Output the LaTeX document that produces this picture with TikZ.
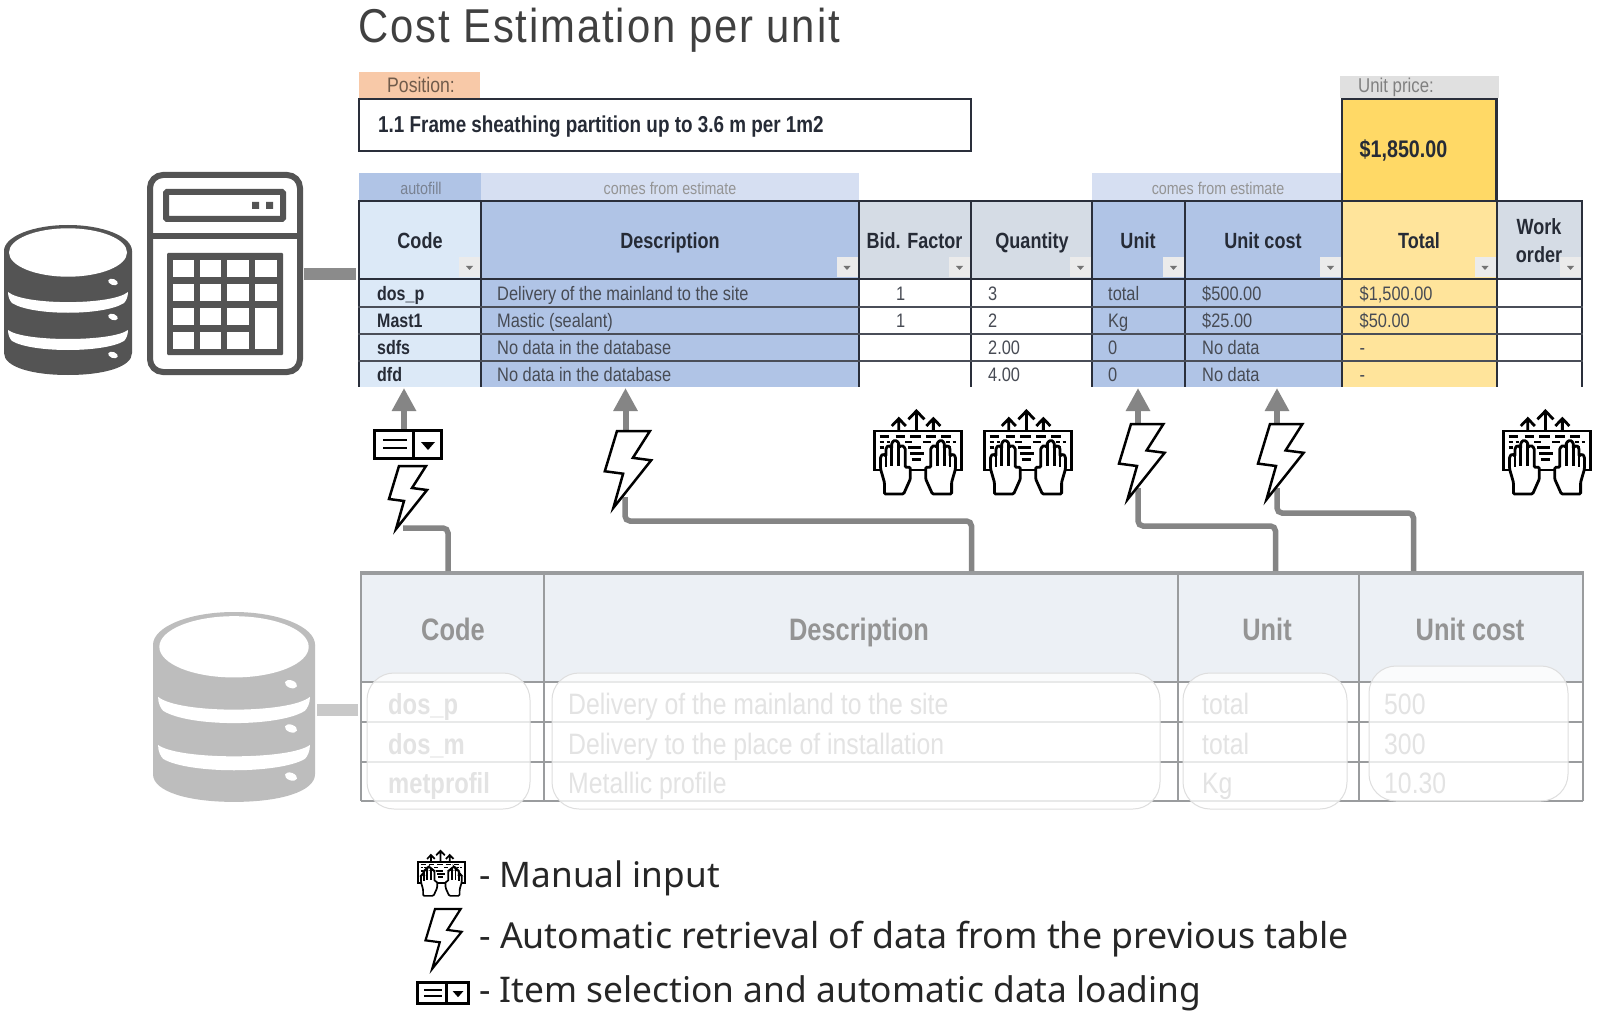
\documentclass[tikz,border=0pt]{standalone}
\usepackage{fontspec}
\usetikzlibrary{arrows.meta}
\setmainfont{Liberation Sans}
\newfontfamily\cond[FakeStretch=0.84]{Liberation Sans}
\newfontfamily\condb[FakeStretch=0.82]{Liberation Sans}
\newfontfamily\titlef[FakeStretch=0.88,LetterSpace=4]{Liberation Sans}
\newfontfamily\legendf{Noto Sans}
\newcommand{\fs}[1]{\fontsize{#1}{#1}\selectfont}
\definecolor{blueA}{HTML}{B0C4E6}
\definecolor{blueB}{HTML}{DCE9F7}
\definecolor{blueC}{HTML}{D6DFF2}
\definecolor{greyH}{HTML}{D5DCE5}
\definecolor{yelA}{HTML}{FFE49B}
\definecolor{yelB}{HTML}{FFD966}
\definecolor{peach}{HTML}{F8C9A8}
\definecolor{ink}{HTML}{262B36}
\definecolor{lineT}{HTML}{2A2F3B}
\definecolor{conng}{HTML}{858585}
\definecolor{lowline}{HTML}{9A9C9E}
\definecolor{lowhd}{HTML}{ECF0F5}
\newcommand{\kbdlw}{2.8pt}
\newcommand{\bolw}{2.5pt}
\newcommand{\sellw}{3pt}
\tikzset{
 hd/.style={font=\condb\bfseries\fs{22},text=ink,anchor=base,inner sep=0pt},
 bd/.style={font=\cond\fs{19.5},text=ink!85,anchor=base west,inner sep=0pt},
 bdb/.style={font=\condb\bfseries\fs{19.5},text=ink,anchor=base west,inner sep=0pt},
 capt/.style={font=\cond\fs{17},anchor=base,inner sep=0pt},
 lowh/.style={font=\condb\bfseries\fs{31},text=black!42,anchor=base,inner sep=0pt},
 lowb/.style={font=\cond\fs{29.5},text=black!50,anchor=base west,inner sep=0pt},
 legt/.style={text=black!85,anchor=base west,inner sep=0pt},
 conn/.style={draw=conng,line width=5.5pt,rounded corners=5pt},
 arrowg/.style={draw=conng,line width=6pt,-{Triangle[length=23pt,width=23pt]}},
 tline/.style={draw=lineT,line width=2.4pt},
 rline/.style={draw=lineT!85,line width=1.9pt},
 lline/.style={draw=lowline,line width=2.6pt},
 overlay/.style={draw=black!13,line width=1pt,fill=white,fill opacity=.78,rounded corners=27pt},
 filt/.style={fill=white!92!black},
 bolt/.pic={\draw[black,fill=white,line width=\bolw,line join=miter,miter limit=6]
   (0,0)--(27,0)--(13,22)--(28,24)--(-3,63)--(5,35)--(-10,33)--cycle;},
 selbox/.pic={
   \draw[black,fill=white,line width=\sellw] (0.5,0.5) rectangle (67.5,28.5);
   \draw[black,line width=\sellw] (39,0)--(39,29);
   \draw[black,line width=\sellw*.85] (9,10)--(33,10) (9,18)--(33,18);
   \fill[black] (47,12)--(61,12)--(54,20)--cycle;},
 kbd/.pic={
   \begin{scope}[line width=\kbdlw,black,xscale=.96]
   \draw[fill=white] (15,81) rectangle (285,198);
   \draw (145,81)--(145,24) (120,46)--(145,21)--(170,46);
   \draw (90,81)--(90,46) (68,66)--(90,44)--(112,66);
   \draw (198,81)--(198,46) (176,66)--(198,44)--(220,66);
   \foreach \y/\a/\b in {97/30/60,97/80/110,97/125/158,97/175/205,97/222/252,
      114/30/44,114/52/62,114/110/132,114/165/190,114/238/250,114/258/270,
      131/30/44,131/118/160,131/240/252,148/125/170,166/130/160}
     \draw (\a,\y)--(\b,\y);
   \foreach \m in {0,1}{
   \begin{scope}[shift={(\m*300,0)},xscale=1-2*\m]
   \draw[fill=white,rounded corners=1.2pt] (45,270)--(45,235)--(33,195)--(33,158)--(40,150)--(50,156)--(50,132)--(58,124)--(68,132)--(68,116)--(78,108)--(90,116)--(90,130)--(100,124)--(110,132)--(110,190)--(126,190)--(126,225)--(105,270)--cycle;
   \draw (50,156)--(50,190) (68,132)--(68,185) (90,116)--(90,185);
   \end{scope}}
   \end{scope}},
 dbicon/.pic={
   \fill[dbc] (64,26) ellipse[x radius=64,y radius=26];
   \fill[dbc] (0,26)--(128,26)--(128,128) .. controls (128,142) and (100,150) .. (64,150) .. controls (28,150) and (0,142) .. (0,128)--cycle;
   \fill[white] (64,27.5) ellipse[x radius=59,y radius=24.2];
   \fill[white] (4,67) .. controls (20,80.5) and (108,80.5) .. (124,67) .. controls (124,72) and (122,76) .. (120,78) .. controls (100,91) and (28,91) .. (8,78) .. controls (6,76) and (4,72) .. (4,67)--cycle;
   \fill[white] (4,105) .. controls (20,117) and (108,117) .. (124,105) .. controls (124,110) and (122,114) .. (120,116) .. controls (100,128) and (28,128) .. (8,116) .. controls (6,114) and (4,110) .. (4,105)--cycle;
   \foreach \y in {57,92,130}
     \fill[white,rotate around={-20:(109,\y)}] (109,\y) ellipse[x radius=5,y radius=3];
 }
}
\begin{document}
\begin{tikzpicture}[x=1pt,y=-1pt]
\useasboundingbox (0,0) rectangle (1600,1032);
\fill[white] (0,0) rectangle (1600,1032);

% title
\node[font=\titlef\fs{47.5},text=black!75,anchor=base west,inner sep=0pt] (title) at (358,43) {Cost Estimation per unit};

% caption bars
\fill[peach] (359,72) rectangle (480,98);
\node[font=\cond\fs{21},text=black!55!peach,anchor=base,inner sep=0pt] (pos) at (421,93) {Position:};
\fill[black!12] (1340,76) rectangle (1499,98);
\node[font=\cond\fs{20},text=black!50,anchor=base,inner sep=0pt] (uprice) at (1396,93) {Unit price:};
\fill[blueA] (359,173) rectangle (481,200);
\fill[blueC] (481,173) rectangle (858.5,200);
\fill[blueC] (1092,173) rectangle (1342,200);
\node[capt,text=blueA!55!black!85] (auto) at (421,195) {autofill};
\node[capt,text=black!42] (comes1) at (670,195) {comes from estimate};
\node[capt,text=black!42] (comes2) at (1218,195) {comes from estimate};

% position box
\draw[tline,fill=white] (359,99) rectangle (971,151);
\node[font=\condb\bfseries\fs{23},text=ink,anchor=base west,inner sep=0pt] (frame) at (378,133) {1.1 Frame sheathing partition up to 3.6 m per 1m2};

% unit price box
\draw[draw=lineT,line width=2.4pt,fill=yelB] (1342,99) rectangle (1496.5,201);
\node[font=\condb\bfseries\fs{24},text=ink,anchor=base west,inner sep=0pt] (price) at (1359.5,158) {\$1,850.00};

% upper table fills
\fill[blueB] (359,201) rectangle (481,387);
\fill[blueA] (481,201) rectangle (858.5,387);
\fill[greyH] (858.5,201) rectangle (1092,279);
\fill[blueA] (1092,201) rectangle (1342,387);
\fill[yelA] (1342,201) rectangle (1496.5,387);
\fill[greyH] (1496.5,201) rectangle (1581.5,279);

% upper headers
\node[hd] (hCode) at (420,249) {Code};
\node[hd] (hDesc) at (670,249) {Description};
\node[hd] (hBid) at (914.5,249) {Bid. Factor};
\node[hd] (hQty) at (1032,249) {Quantity};
\node[hd] (hUnit) at (1138,249) {Unit};
\node[hd] (hCost) at (1263,249) {Unit cost};
\node[hd] (hTot) at (1419,249) {Total};
\node[hd] (hWork) at (1539,235) {Work};
\node[hd] (hOrd) at (1539,263) {order};

% filter buttons
\foreach \r in {480,857.5,970,1091,1184,1341,1495.5,1581}{
  \fill[filt] (\r-21,257) rectangle (\r,277.5);
  \fill[black!55] (\r-14,266)--(\r-7,266)--(\r-10.5,270)--cycle;
}

% upper table lines
\foreach \x in {359,481,858.5,971,1092,1185,1342,1496.5,1581.5}
  \draw[tline,line width=2pt] (\x,201)--(\x,387);
\draw[tline] (358,201)--(1582.5,201);
\draw[tline] (358,279)--(1582.5,279);
\foreach \y in {307,334,361}
  \draw[rline] (358,\y)--(1582.5,\y);

% upper body
\foreach \n/\y/\a/\b/\c/\d/\e/\f/\g in {
  1/300/dos\_p/Delivery of the mainland to the site/1/3/total/\$500.00/{\$1,500.00},
  2/327/Mast1/Mastic (sealant)/1/2/Kg/\$25.00/\$50.00,
  3/354/sdfs/No data in the database//2.00/0/No data/-,
  4/381/dfd/No data in the database//4.00/0/No data/-}{
  \node[bdb] (c\n) at (377,\y) {\a};
  \node[bd] (de\n) at (497,\y) {\b};
  \node[bd] (bi\n) at (896,\y) {\c};
  \node[bd] (qt\n) at (988,\y) {\d};
  \node[bd] (un\n) at (1108,\y) {\e};
  \node[bd] (co\n) at (1202,\y) {\f};
  \node[bd] (to\n) at (1359.5,\y) {\g};
}

% lower table
\fill[lowhd] (361,573) rectangle (1583,682);
\node[lowh] (lCode) at (453,640) {Code};
\node[lowh] (lDesc) at (859,640) {Description};
\node[lowh] (lUnit) at (1267,640) {Unit};
\node[lowh] (lCost) at (1470,640) {Unit cost};
\draw[lline,line width=3.5pt] (360,573)--(1584,573);
\foreach \x in {361,544,1178,1359,1583}
  \draw[lline] (\x,573)--(\x,801);
\draw[lline,line width=2.2pt] (361,801)--(1583,801);
\draw[lline] (361,682)--(1583,682);
\draw[lline] (361,722)--(1583,722);
\draw[lline] (361,762)--(1583,762);
\foreach \n/\y/\a/\b/\c/\d in {
  1/714/dos\_p/Delivery of the mainland to the site/total/500,
  2/754/dos\_m/Delivery to the place of installation/total/300,
  3/793/metprofil/Metallic profile/Kg/10.30}{
  \node[lowb,font=\condb\bfseries\fs{29}] (lc\n) at (388,\y) {\a};
  \node[lowb] (ld\n) at (568,\y) {\b};
  \node[lowb] (lu\n) at (1202,\y) {\c};
  \node[lowb] (lv\n) at (1384,\y) {\d};
}
\draw[overlay] (367,673) rectangle (530,809);
\draw[overlay] (552,673) rectangle (1160,809);
\draw[overlay] (1183,673) rectangle (1347,809);
\draw[overlay] (1369,666) rectangle (1568,801);

% connector anchors
\coordinate (calcE) at (304,274);
\coordinate (tblW) at (356,274);
\coordinate (db2E) at (317,710);
\coordinate (low2W) at (358,710);
\coordinate (t1) at (404,388);
\coordinate (t2) at (625.5,388);
\coordinate (t3) at (1138,388);
\coordinate (t4) at (1277,388);
\coordinate (s1) at (404,431);
\coordinate (s2) at (625.5,436);
\coordinate (s3) at (1138,426);
\coordinate (s4) at (1277,426);
\coordinate (l1) at (448,571);
\coordinate (l2) at (971.5,571);
\coordinate (l3) at (1275.5,571);
\coordinate (l4) at (1413.5,571);
\coordinate (b1) at (403,528);
\coordinate (b2) at (625,497);
\coordinate (b3) at (1138,488);
\coordinate (b4) at (1277,488);

\draw[draw=conng!95!white,line width=12pt] (calcE)--(tblW);
\draw[draw=black!21,line width=12pt] (db2E)--(low2W);
\draw[arrowg] (s1)--(t1);
\draw[arrowg] (s2)--(t2);
\draw[arrowg] (s3)--(t3);
\draw[arrowg] (s4)--(t4);
\draw[conn] (b1)--(448,528)--(l1);
\draw[conn] (b2)--(625,521)--(971.5,521)--(l2);
\draw[conn] (b3)--(1138,526)--(1275.5,526)--(l3);
\draw[conn] (b4)--(1277,513)--(1413.5,513)--(l4);

% icons
\pic at (374,430) {selbox};
\pic at (399,466) {bolt};
\pic[scale=1.22] at (617,431) {bolt};
\pic[scale=1.2] at (1131,424) {bolt};
\pic[scale=1.2] at (1270,424) {bolt};
\pic[scale=1/3] at (870,404) {kbd};
\pic[scale=1/3] at (980,404) {kbd};
\pic[scale=1/3] at (1499,404) {kbd};

% calculator
\colorlet{calc}{black!67}
\draw[calc,line width=6pt,rounded corners=13pt] (150,175) rectangle (300,372);
\draw[calc,line width=6pt] (150,236)--(300,236);
\draw[calc,line width=6pt,rounded corners=1pt] (166,192) rectangle (283,219);
\fill[calc] (252,202) rectangle (259,209) (266,202) rectangle (273,209);
\fill[calc,rounded corners=1pt] (167,253) rectangle (283,355);
\foreach \a/\b in {172.7/194,200/221.3,227.3/248.7,255/276.7}
 \foreach \c/\d in {260/277.3,284/301.3,308/325.3,332/349.3}{
  \fill[white] (\a,\c) rectangle (\b,\d);
 }
\fill[white] (255,308) rectangle (276.7,349.3);

% databases
\colorlet{dbc}{black!67}
\pic at (4,225) {dbicon};
\colorlet{dbc}{black!26}
\pic[scale=1.266] at (153,612) {dbicon};

% legend
\renewcommand{\kbdlw}{1.7pt}
\renewcommand{\bolw}{2.2pt}
\renewcommand{\sellw}{2.6pt}
\pic[scale=.181] at (415.3,847) {kbd};
\pic[scale=.95] at (435,909) {bolt};
\pic[scale=.76] at (417,982) {selbox};
\node[legt,font=\legendf\fs{35.2}] (lg1) at (479,887) {- Manual input};
\node[legt,font=\legendf\fs{35.75}] (lg2) at (479,948) {- Automatic retrieval of data from the previous table};
\node[legt,font=\legendf\fs{35.35}] (lg3) at (479,1002) {- Item selection and automatic data loading};
\end{tikzpicture}
\end{document}
